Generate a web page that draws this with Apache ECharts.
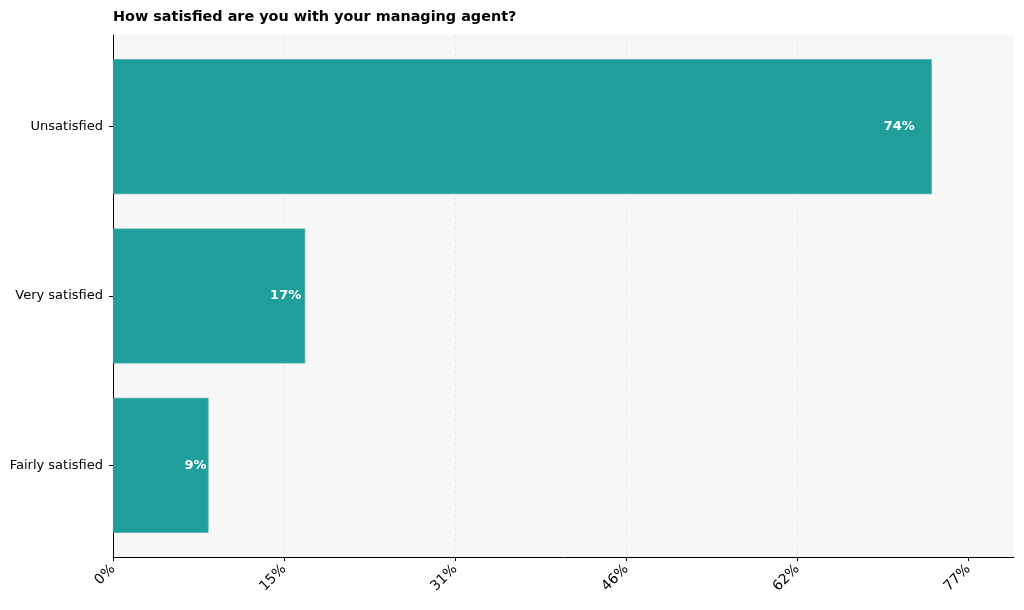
<!DOCTYPE html>
<html>
<head>
<meta charset="utf-8">
<script src="https://cdn.jsdelivr.net/npm/echarts@6/dist/echarts.min.js"></script>
<style>
  html, body { margin: 0; padding: 0; background: #fff; }
  #main { width: 1024px; height: 610px; }
</style>
</head>
<body>
<div id="main"></div>
<script>
// data (percent of respondents)
var categories = ['Fairly satisfied', 'Very satisfied', 'Unsatisfied'];
var shares = [8.6, 17.3, 73.7];
var tickValues = [0, 15.4, 30.8, 46.2, 61.6, 77];   // shown as 0,15,31,46,62,77
var tickStep = 15.4;
var axisMax = 81.1;

var font = 'DejaVu Sans';
var teal = '#1f9e9c';

function pct(v) { return Math.round(v) + '%'; }

var myChart = echarts.init(document.getElementById('main'));

var option = {
    animation: false,
    title: {
        text: 'How satisfied are you with your managing agent?',
        left: 113, top: 10, padding: 0,
        textStyle: { fontFamily: font, fontSize: 14.4, fontWeight: 'bold', color: '#000' }
    },
    grid: [
        // grid 0: background, x axis and y spine
        { left: 113, right: 10, top: 35, bottom: 53, show: true, backgroundColor: '#f7f7f7', borderWidth: 0 },
        // grid 1: bars + category labels (matplotlib-like margins)
        { left: 113, right: 10, top: 42, bottom: 60 }
    ],
    xAxis: [
        {
            gridIndex: 0, type: 'value', min: 0, max: axisMax, interval: tickStep,
            axisLine: { show: true, lineStyle: { color: '#000', width: 1 } },
            axisTick: { show: true, length: 4, customValues: tickValues, lineStyle: { color: '#000' } },
            axisLabel: {
                rotate: 45, margin: 10, fontFamily: font, fontSize: 14, color: '#000',
                customValues: tickValues,
                formatter: function (v) { return pct(v); }
            },
            splitLine: {
                show: true, showMinLine: false, showMaxLine: false,
                lineStyle: { color: '#e2e2e2', type: [3, 3], width: 0.8 }
            }
        },
        { gridIndex: 1, type: 'value', min: 0, max: axisMax, show: false }
    ],
    yAxis: [
        {
            gridIndex: 0, type: 'value', min: 0, max: 1,
            axisLine: { show: true, lineStyle: { color: '#000', width: 1 } },
            axisTick: { show: false }, axisLabel: { show: false }, splitLine: { show: false }
        },
        {
            gridIndex: 1, type: 'category', data: categories,
            axisLine: { show: false },
            axisTick: { show: true, alignWithLabel: true, length: 4, lineStyle: { color: '#000' } },
            axisLabel: { margin: 10, fontFamily: font, fontSize: 13, color: '#000' },
            splitLine: { show: false }
        }
    ],
    series: [{
        type: 'bar',
        xAxisIndex: 1, yAxisIndex: 1,
        barWidth: 135,
        data: shares.map(function (v) {
            return {
                value: v,
                label: { distance: Math.max(2, v * 0.23) }
            };
        }),
        itemStyle: { color: teal, borderColor: '#45afac', borderWidth: 0.8 },
        label: {
            show: true, position: 'insideRight',
            fontFamily: font, fontSize: 13, fontWeight: 'bold', color: '#fff',
            formatter: function (p) { return pct(p.value); }
        }
    }]
};

myChart.setOption(option);
</script>
</body>
</html>
